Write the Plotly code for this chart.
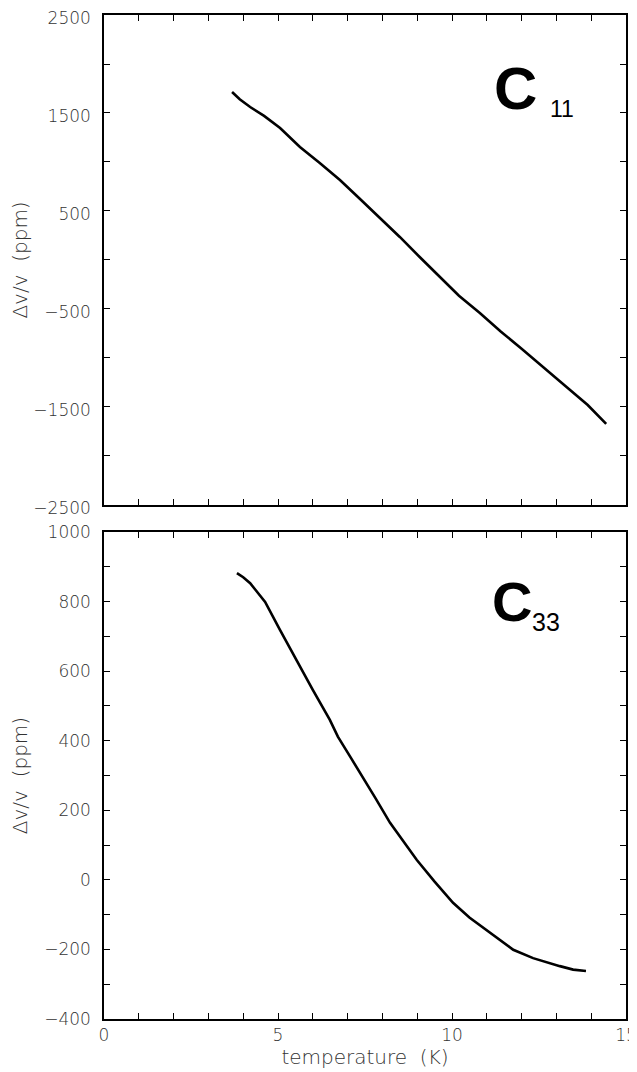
import plotly.graph_objects as go

# C11 panel (top): temperature (K) vs dv/v (ppm)
t_c11 = [3.68, 3.9, 4.2, 4.6, 5.06, 5.63, 6.2, 6.78, 7.35, 7.93, 8.5, 9.1, 9.7, 10.2, 10.8, 11.4, 12.0, 12.73, 13.3, 13.9, 14.43]
v_c11 = [1714, 1640, 1561, 1470, 1347, 1153, 990, 816, 625, 429, 235, 20, -190, -365, -541, -730, -905, -1122, -1300, -1480, -1673]

# C33 panel (bottom)
t_c33 = [3.82, 4.0, 4.2, 4.63, 5.06, 5.63, 6.0, 6.49, 6.72, 7.1, 7.44, 7.8, 8.22, 8.6, 8.99, 9.5, 10.03, 10.5, 11.0, 11.4, 11.76, 12.33, 12.7, 13.1, 13.48, 13.85]
v_c33 = [882, 870, 853, 799, 718, 612, 546, 460, 412, 350, 296, 235, 164, 110, 57, -5, -66, -108, -144, -175, -201, -225, -237, -248, -258, -262]

x_ticks = [0, 5, 10, 15]
y1_ticks = [-2500, -1500, -500, 500, 1500, 2500]
y2_ticks = [-400, -200, 0, 200, 400, 600, 800, 1000]

lab_fam = "Liberation Sans, Arial, sans-serif"
tick_fam = "DejaVu Sans, sans-serif"
tick_font = dict(family=tick_fam, size=17, color="#333", weight=200)
title_font = dict(family=tick_fam, size=20, color="#333", weight=200)

fig = go.Figure()
fig.add_trace(go.Scatter(x=t_c11, y=v_c11, mode="lines", line=dict(color="black", width=2.6),
                         xaxis="x", yaxis="y", showlegend=False))
fig.add_trace(go.Scatter(x=t_c33, y=v_c33, mode="lines", line=dict(color="black", width=2.6),
                         xaxis="x2", yaxis="y2", showlegend=False))

common_ax = dict(showline=True, linecolor="black", linewidth=1.5, mirror="ticks",
                 ticks="inside", ticklen=6, tickwidth=1, tickcolor="black",
                 showgrid=False, zeroline=False, tickfont=tick_font, automargin=False,
                 ticklabeloverflow="allow")

fig.update_layout(
    width=629, height=1064,
    margin=dict(l=96, r=11, t=7, b=53),
    paper_bgcolor="white", plot_bgcolor="white",
    xaxis=dict(common_ax, domain=[0, 1], range=[0, 15], anchor="y",
               tickmode="array", tickvals=x_ticks, showticklabels=False,
               minor=dict(dtick=1, tick0=0, ticks="inside", ticklen=6, tickcolor="black")),
    yaxis=dict(common_ax, domain=[0.512, 1], range=[-2500, 2500], anchor="x",
               tickmode="array", tickvals=y1_ticks, ticklabelstandoff=8, ticklabelshift=3,
               minor=dict(dtick=500, tick0=-2500, ticks="inside", ticklen=6, tickcolor="black"),
               title=dict(text="\u0394v/v  (ppm)", font=title_font, standoff=6)),
    xaxis2=dict(common_ax, domain=[0, 1], range=[0, 15], anchor="y2",
                tickmode="array", tickvals=x_ticks, ticklabelstandoff=0,
                minor=dict(dtick=1, tick0=0, ticks="inside", ticklen=6, tickcolor="black"),
                title=dict(text="temperature  (K)", font=title_font, standoff=4)),
    yaxis2=dict(common_ax, domain=[0, 0.485], range=[-400, 1000], anchor="x2",
                tickmode="array", tickvals=y2_ticks, ticklabelstandoff=8,
                minor=dict(dtick=100, tick0=-400, ticks="inside", ticklen=6, tickcolor="black"),
                title=dict(text="\u0394v/v  (ppm)", font=title_font, standoff=22)),
)

# Panel labels (placed in data coordinates)
fig.add_annotation(text="<b>C</b>", xref="x", yref="y", x=12.5, y=1755,
                   xanchor="right", yanchor="middle", showarrow=False,
                   font=dict(family=lab_fam, size=60, color="black"))
fig.add_annotation(text="11", xref="x", yref="y", x=12.75, y=1540,
                   xanchor="left", yanchor="middle", showarrow=False,
                   font=dict(family=lab_fam, size=23, color="black"))
fig.add_annotation(text="<b>C</b>", xref="x2", yref="y2", x=12.35, y=800,
                   xanchor="right", yanchor="middle", showarrow=False,
                   font=dict(family=lab_fam, size=56, color="black"))
fig.add_annotation(text="33", xref="x2", yref="y2", x=12.25, y=741,
                   xanchor="left", yanchor="middle", showarrow=False,
                   font=dict(family=lab_fam, size=25, color="black"))

fig.write_html("out.html")
